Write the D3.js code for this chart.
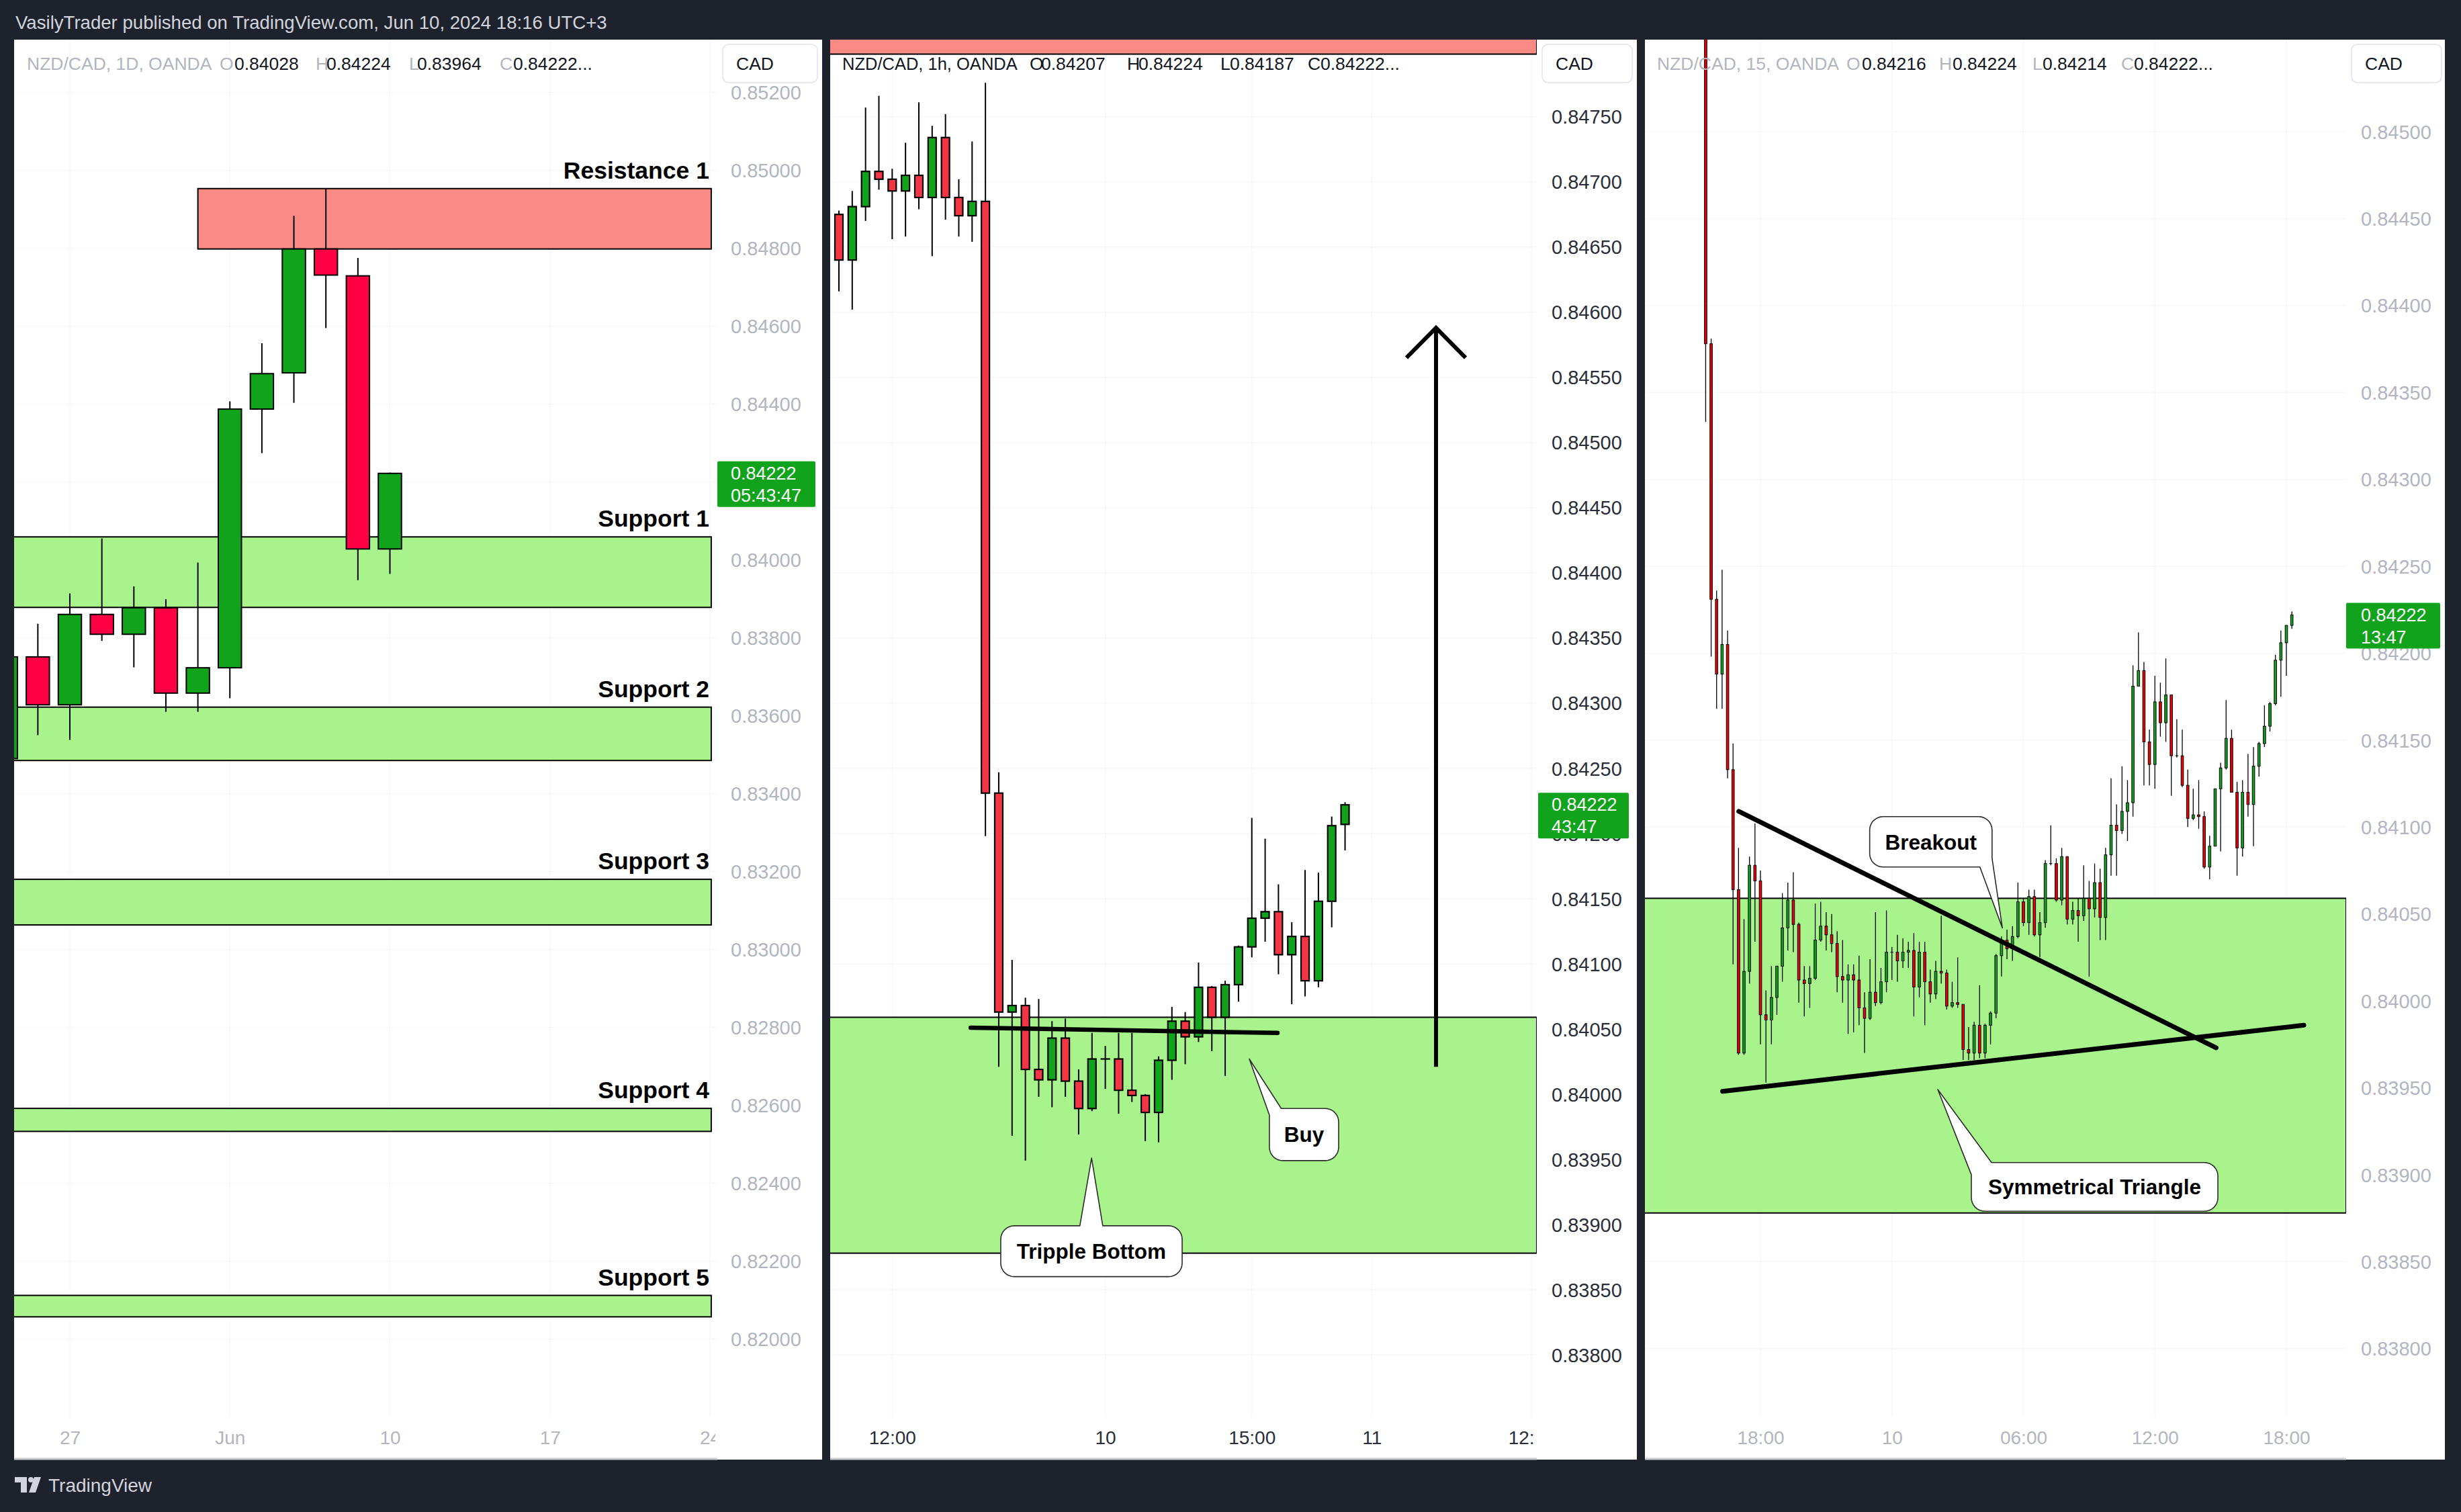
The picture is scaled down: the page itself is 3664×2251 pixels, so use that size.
<!DOCTYPE html>
<html>
<head>
<meta charset="utf-8">
<script src="https://cdn.jsdelivr.net/npm/d3@7/dist/d3.min.js"></script>
<style>
html,body{margin:0;padding:0;background:#1e222d;}
svg{display:block;font-family:"Liberation Sans",Arial,sans-serif;}
</style>
</head>
<body>
<svg id="chart" width="3664" height="2251"></svg>
<script>
// ================= DATA =================
const headerText = "VasilyTrader published on TradingView.com, Jun 10, 2024 18:16 UTC+3";

// ---- Panel 1 : NZD/CAD 1D ----
const dailyIndex = [0,1,2,3,4,5,6,7,8,9,10,11,12];
const dailyDates = ["May 23","May 24","May 27","May 28","May 29","May 30","May 31","Jun 3","Jun 4","Jun 5","Jun 6","Jun 7","Jun 10"];
const dailyOpen  = [0.83490,0.83751,0.83628,0.83860,0.83809,0.83877,0.83658,0.83723,0.84387,0.84480,0.84798,0.84729,0.84028];
const dailyHigh  = [0.83760,0.83836,0.83914,0.84055,0.83932,0.83899,0.83993,0.84407,0.84556,0.84883,0.84953,0.84775,0.84224];
const dailyLow   = [0.83470,0.83550,0.83538,0.83792,0.83724,0.83610,0.83610,0.83645,0.84274,0.84403,0.84595,0.83948,0.83964];
const dailyClose = [0.83751,0.83628,0.83860,0.83809,0.83877,0.83658,0.83723,0.84387,0.84478,0.84798,0.84731,0.84028,0.84222];
const dailyTimeTicks  = [2,7,12,17,22];
const dailyTimeLabels = ["27","Jun","10","17","24"];
const dailyPriceTicks = [0.852,0.850,0.848,0.846,0.844,0.842,0.840,0.838,0.836,0.834,0.832,0.830,0.828,0.826,0.824,0.822,0.820];
const dailyLegend = ["NZD/CAD, 1D, OANDA","0.84028","0.84224","0.83964","0.84222..."];

// ---- zones (shared by all panels) ----
const zoneNames  = ["Resistance 1","Support 1","Support 2","Support 3","Support 4","Support 5"];
const zoneKinds  = ["res","sup","sup","sup","sup","sup"];
const zoneTop    = [0.84953,0.84059,0.83622,0.83180,0.82592,0.82112];
const zoneBottom = [0.84798,0.83878,0.83485,0.83063,0.82533,0.82057];
const zoneStartDay = [6,-3,-3,-3,-3,-3];
const zoneEndDay   = [22.04,22.04,22.04,22.04,22.04,22.04];

// ---- Panel 2 : NZD/CAD 1h ----
const hourlyOpen  = [0.84675,0.84640,0.84681,0.84708,0.84702,0.84693,0.84705,0.84688,0.84734,0.84688,0.84674,0.84685,0.84231,0.84063,0.84068,0.84019,0.84011,0.84043,0.84010,0.83989,0.84027,0.84027,0.84003,0.83999,0.83986,0.84026,0.84056,0.84044,0.84082,0.84059,0.84084,0.84113,0.84135,0.84140,0.84107,0.84121,0.84087,0.84148,0.84207];
const hourlyHigh  = [0.84678,0.84693,0.84757,0.84766,0.84710,0.84730,0.84761,0.84743,0.84752,0.84702,0.84731,0.84776,0.84247,0.84103,0.84074,0.84073,0.84056,0.84058,0.84019,0.84047,0.84037,0.84047,0.84047,0.84000,0.84029,0.84067,0.84063,0.84101,0.84083,0.84087,0.84114,0.84212,0.84196,0.84161,0.84132,0.84172,0.84170,0.84213,0.84224];
const hourlyLow   = [0.84616,0.84602,0.84670,0.84694,0.84656,0.84658,0.84679,0.84643,0.84671,0.84658,0.84654,0.84198,0.84021,0.83968,0.83949,0.83998,0.83990,0.83998,0.83969,0.83987,0.84004,0.83985,0.83994,0.83964,0.83963,0.84011,0.84023,0.84040,0.84033,0.84014,0.84071,0.84105,0.84117,0.84092,0.84069,0.84075,0.84082,0.84128,0.84187];
const hourlyClose = [0.84640,0.84681,0.84708,0.84702,0.84693,0.84705,0.84688,0.84734,0.84688,0.84674,0.84685,0.84231,0.84063,0.84068,0.84019,0.84011,0.84043,0.84010,0.83989,0.84027,0.84027,0.84003,0.83999,0.83986,0.84026,0.84056,0.84044,0.84082,0.84059,0.84084,0.84113,0.84135,0.84140,0.84107,0.84121,0.84087,0.84148,0.84206,0.84222];
const hourlyTimeTicks  = [4,20,31,40,52];
const hourlyTimeLabels = ["12:00","10","15:00","11","12:00"];
const hourlyPriceTicks = [0.8475,0.847,0.8465,0.846,0.8455,0.845,0.8445,0.844,0.8435,0.843,0.8425,0.842,0.8415,0.841,0.8405,0.840,0.8395,0.839,0.8385,0.838];
const hourlyLegend = ["NZD/CAD, 1h, OANDA","0.84207","0.84224","0.84187","0.84222..."];
const necklineIdx = [9.89,32.93];
const necklinePrice = [0.84051,0.84047];
const arrowIdx = [44.83,44.83];
const arrowPrice = [0.84021,0.84588];
const arrowHeadIdx = [42.61,44.83,47.05];
const arrowHeadPrice = [0.84565,0.84588,0.84565];

// ---- Panel 3 : NZD/CAD 15m ----
const m15Start = -10;
const m15Open  = [0.84590,0.84378,0.84231,0.84188,0.84205,0.84133,0.84064,0.83970,0.84017,0.84078,0.84069,0.83992,0.83989,0.84002,0.84020,0.84042,0.84058,0.84044,0.84012,0.84010,0.84013,0.84035,0.84043,0.84038,0.84033,0.84014,0.84012,0.84015,0.84012,0.83996,0.83990,0.84005,0.83999,0.84011,0.84028,0.84028,0.84023,0.84028,0.84029,0.84008,0.84028,0.84011,0.84004,0.84017,0.84016,0.83997,0.83999,0.83998,0.83972,0.83970,0.83986,0.83970,0.83986,0.83993,0.84026,0.84035,0.84030,0.84037,0.84057,0.84045,0.84060,0.84038,0.84045,0.84079,0.84079,0.84058,0.84083,0.84047,0.84052,0.84049,0.84059,0.84053,0.84068,0.84048,0.84084,0.84101,0.84098,0.84109,0.84114,0.84181,0.84190,0.84149,0.84136,0.84172,0.84160,0.84176,0.84141,0.84141,0.84124,0.84105,0.84107,0.84106,0.84077,0.84089,0.84122,0.84134,0.84151,0.84120,0.84088,0.84120,0.84113,0.84135,0.84148,0.84158,0.84171,0.84196,0.84206,0.84216];
const m15High  = [0.84600,0.84381,0.84236,0.84248,0.84213,0.84148,0.84088,0.84047,0.84083,0.84102,0.84075,0.84006,0.84020,0.84020,0.84062,0.84068,0.84074,0.84045,0.84020,0.84020,0.84056,0.84057,0.84051,0.84050,0.84040,0.84035,0.84021,0.84021,0.84026,0.84005,0.84024,0.84051,0.84019,0.84052,0.84031,0.84038,0.84036,0.84034,0.84039,0.84034,0.84034,0.84018,0.84023,0.84049,0.84018,0.84011,0.84025,0.83998,0.83985,0.83988,0.84009,0.83987,0.83994,0.84027,0.84037,0.84041,0.84043,0.84068,0.84059,0.84064,0.84064,0.84051,0.84081,0.84101,0.84082,0.84088,0.84083,0.84057,0.84059,0.84078,0.84069,0.84079,0.84076,0.84088,0.84128,0.84113,0.84135,0.84127,0.84193,0.84212,0.84195,0.84156,0.84187,0.84183,0.84197,0.84176,0.84162,0.84156,0.84133,0.84122,0.84127,0.84109,0.84095,0.84122,0.84137,0.84173,0.84156,0.84126,0.84127,0.84142,0.84146,0.84149,0.84170,0.84172,0.84199,0.84213,0.84216,0.84224];
const m15Low   = [0.84333,0.84198,0.84168,0.84168,0.84128,0.84021,0.83969,0.83969,0.84010,0.84034,0.83975,0.83953,0.83975,0.83992,0.84011,0.84029,0.84028,0.83999,0.83991,0.83996,0.84012,0.84034,0.84029,0.84028,0.84005,0.83999,0.83981,0.83982,0.83986,0.83970,0.83989,0.83997,0.83998,0.84005,0.84012,0.84011,0.84019,0.84019,0.83991,0.84002,0.83986,0.83999,0.84001,0.84010,0.83995,0.83996,0.83996,0.83966,0.83966,0.83966,0.83967,0.83967,0.83975,0.83990,0.84014,0.84024,0.84023,0.84036,0.84043,0.84038,0.84037,0.84025,0.84042,0.84078,0.84057,0.84055,0.84044,0.84044,0.84034,0.84046,0.84014,0.84048,0.84035,0.84035,0.84072,0.84072,0.84096,0.84092,0.84106,0.84181,0.84124,0.84124,0.84122,0.84152,0.84149,0.84118,0.84140,0.84123,0.84100,0.84104,0.84099,0.84076,0.84070,0.84089,0.84086,0.84133,0.84120,0.84072,0.84083,0.84106,0.84089,0.84129,0.84146,0.84155,0.84170,0.84175,0.84187,0.84214];
const m15Close = [0.84378,0.84231,0.84188,0.84205,0.84133,0.84064,0.83970,0.84017,0.84078,0.84069,0.83992,0.83989,0.84002,0.84020,0.84042,0.84058,0.84044,0.84012,0.84010,0.84013,0.84035,0.84043,0.84038,0.84033,0.84014,0.84012,0.84015,0.84012,0.83996,0.83990,0.84005,0.83999,0.84011,0.84028,0.84028,0.84023,0.84028,0.84029,0.84008,0.84028,0.84011,0.84004,0.84017,0.84016,0.83997,0.83999,0.83998,0.83972,0.83970,0.83986,0.83970,0.83986,0.83993,0.84026,0.84035,0.84030,0.84037,0.84057,0.84045,0.84060,0.84038,0.84045,0.84079,0.84079,0.84058,0.84083,0.84047,0.84052,0.84049,0.84059,0.84053,0.84068,0.84048,0.84084,0.84101,0.84098,0.84109,0.84114,0.84181,0.84190,0.84149,0.84136,0.84172,0.84160,0.84176,0.84141,0.84141,0.84124,0.84105,0.84107,0.84106,0.84077,0.84089,0.84122,0.84134,0.84151,0.84120,0.84088,0.84120,0.84113,0.84135,0.84148,0.84158,0.84171,0.84196,0.84206,0.84216,0.84222];
const m15TimeTicks  = [0,24,48,72,96];
const m15TimeLabels = ["18:00","10","06:00","12:00","18:00"];
const m15PriceTicks = [0.845,0.8445,0.844,0.8435,0.843,0.8425,0.842,0.8415,0.841,0.8405,0.840,0.8395,0.839,0.8385,0.838];
const m15Legend = ["NZD/CAD, 15, OANDA","0.84216","0.84224","0.84214","0.84222..."];
const descLineIdx = [-3.96,83.17];
const descLinePrice = [0.84109,0.83973];
const ascLineIdx = [-6.92,99.19];
const ascLinePrice = [0.83948,0.83986];

const lastPrice = 0.84222;
const countdowns = ["05:43:47","43:47","13:47"];

// ================= DRAW =================
const svg = d3.select("#chart");
const TOP = 59, BOTTOM = 2173, PLOT_BOTTOM = 2110;
const fmt = d3.format(".5f");

svg.append("rect").attr("width",3664).attr("height",2251).attr("fill","#1e222d");
svg.append("text").attr("x",23).attr("y",43).attr("fill","#d1d4dc")
  .attr("font-size",27.6).text(headerText);

let clipN = 0;
function makeClip(x,y,w,h){
  const id = "clip"+(clipN++);
  svg.append("clipPath").attr("id",id).append("rect").attr("x",x).attr("y",y).attr("width",w).attr("height",h);
  return "url(#"+id+")";
}

function drawCandles(g, xs, ys, idx, O, Hh, L, C, st){
  const data = idx.map((d,i)=>({i:d,o:O[i],h:Hh[i],l:L[i],c:C[i]}));
  g.selectAll("line.wick").data(data).join("line").attr("class","wick")
    .attr("x1",d=>xs(d.i)).attr("x2",d=>xs(d.i))
    .attr("y1",d=>ys(d.h)).attr("y2",d=>ys(d.l))
    .attr("stroke","#000").attr("stroke-width",st.wick);
  g.selectAll("rect.body").data(data).join("rect").attr("class","body")
    .attr("x",d=>xs(d.i)-st.w/2).attr("width",st.w)
    .attr("y",d=>ys(Math.max(d.o,d.c)))
    .attr("height",d=>Math.max(0.01,Math.abs(ys(d.o)-ys(d.c))))
    .attr("fill",d=>d.c>=d.o?st.up:st.down)
    .attr("stroke","#000").attr("stroke-width",st.border);
}

function drawZones(g, xs, ys, plotLeft, plotRight){
  zoneNames.forEach((n,i)=>{
    const x0 = Math.max(xs(zoneStartDay[i]), plotLeft-10);
    const x1 = Math.min(xs(zoneEndDay[i]), plotRight);
    g.append("rect").attr("x",x0).attr("y",ys(zoneTop[i]))
      .attr("width",x1-x0).attr("height",ys(zoneBottom[i])-ys(zoneTop[i]))
      .attr("fill",zoneKinds[i]==="res"?"#f98a85":"#a8f38b")
      .attr("stroke","#000").attr("stroke-width",2);
  });
}

function drawLegend(g, pos, parts, labelColor, valueColor, nameSize){
  const letters = ["O","H","L","C"];
  const t = g.append("text").attr("y",104).attr("font-size",26.5);
  t.append("tspan").attr("x",pos[0]).attr("fill",labelColor).attr("font-size",nameSize).text(parts[0]);
  for(let k=0;k<4;k++){
    t.append("tspan").attr("x",pos[1+2*k]).attr("fill",labelColor).text(letters[k]);
    t.append("tspan").attr("x",pos[2+2*k]).attr("fill",valueColor).text(parts[1+k]);
  }
}

function drawPanel(cfg){
  const g = svg.append("g");
  g.append("rect").attr("x",cfg.left).attr("y",TOP).attr("width",cfg.right-cfg.left)
    .attr("height",BOTTOM-TOP).attr("fill","#ffffff");
  const plotClip = makeClip(cfg.left, TOP, cfg.plotRight-cfg.left, PLOT_BOTTOM-TOP);
  const plot = g.append("g").attr("clip-path",plotClip);
  plot.selectAll("line.hg").data(cfg.priceTicks).join("line").attr("class","hg")
    .attr("x1",cfg.left).attr("x2",cfg.plotRight).attr("y1",d=>cfg.y(d)).attr("y2",d=>cfg.y(d))
    .attr("stroke","#f6f7f9").attr("stroke-width",1.5);
  plot.selectAll("line.vg").data(cfg.timeTicks).join("line").attr("class","vg")
    .attr("y1",TOP).attr("y2",PLOT_BOTTOM).attr("x1",d=>cfg.x(d)).attr("x2",d=>cfg.x(d))
    .attr("stroke","#f6f7f9").attr("stroke-width",1.5);
  drawZones(plot, cfg.zx, cfg.zy, cfg.left, cfg.plotRight);
  cfg.extra && cfg.extra(plot, g);
  drawLegend(g, cfg.legendPos, cfg.legend, cfg.legendLabelColor, "#131722", cfg.nameSize);
  // price axis: labels hidden completely behind the last-price tag are not drawn
  const ly = cfg.y(lastPrice);
  const shownTicks = cfg.priceTicks.filter(t => !(cfg.hideUnderTag && Math.abs(cfg.y(t)-(ly+16)) < 20));
  const axOuter = g.append("g").attr("clip-path", makeClip(cfg.axisX-5, 127, 200, PLOT_BOTTOM-127));
  const axG = axOuter.append("g").attr("transform","translate("+cfg.axisX+",0)")
    .call(d3.axisRight(cfg.y).tickValues(shownTicks).tickFormat(fmt).tickSize(0).tickPadding(0));
  axG.select(".domain").remove();
  axG.selectAll("text").attr("font-size",29).attr("font-family","Liberation Sans, Arial, sans-serif")
    .attr("fill",cfg.axisColor).attr("dy","0.35em");
  // last price tag
  g.append("rect").attr("x",cfg.tagX0).attr("y",ly-18).attr("width",cfg.tagX1-cfg.tagX0).attr("height",68)
    .attr("fill","#11a31c").attr("rx",2);
  g.append("text").attr("x",cfg.axisX).attr("y",ly+9).attr("fill","#fff").attr("font-size",27).text(fmt(lastPrice));
  g.append("text").attr("x",cfg.axisX).attr("y",ly+42).attr("fill","#fff").attr("font-size",27).text(cfg.countdown);
  // CAD box
  g.append("rect").attr("x",cfg.cadX0).attr("y",66).attr("width",cfg.cadX1-cfg.cadX0).attr("height",57)
    .attr("rx",9).attr("fill","#fff").attr("stroke","#e0e3eb").attr("stroke-width",1.5);
  g.append("text").attr("x",cfg.cadX0+20).attr("y",104).attr("font-size",26.5).attr("fill","#131722").text("CAD");
  // time axis
  const tOuter = g.append("g").attr("clip-path", makeClip(cfg.left, 2080, cfg.plotRight-cfg.left-3, 90));
  const tG = tOuter.append("g").attr("transform","translate(0,2130)")
    .call(d3.axisBottom(cfg.x).tickValues(cfg.timeTicks).tickFormat((d,i)=>cfg.timeLabels[i]).tickSize(0).tickPadding(0));
  tG.select(".domain").remove();
  tG.selectAll("text").attr("font-size",28).attr("font-family","Liberation Sans, Arial, sans-serif")
    .attr("fill",cfg.axisColor).attr("dy","0.71em");
  g.append("line").attr("x1",cfg.left).attr("x2",cfg.plotRight).attr("y1",2172).attr("y2",2172)
    .attr("stroke","#c8cad0").attr("stroke-width",3);
  return g;
}

function callout(g, pts, label, cx, cy){
  g.append("path").attr("d", d3.line()(pts) + "Z")
    .attr("fill","#fff").attr("stroke","#2b2b2b").attr("stroke-width",1.6).attr("stroke-linejoin","round");
  g.append("text").attr("x",cx).attr("y",cy).attr("dy","0.36em").attr("text-anchor","middle")
    .attr("font-size",31.5).attr("font-weight","bold").attr("fill","#000").text(label);
}
function roundRectPts(l,t,r,b,rr,insert){
  const arc = (cx,cy,a0,a1)=>d3.range(0,9).map(k=>{const a=a0+(a1-a0)*k/8;return [cx+rr*Math.cos(a),cy+rr*Math.sin(a)];});
  const P = Math.PI;
  const seg = {
    top: [[l+rr,t],[r-rr,t]],
    tr: arc(r-rr,t+rr,-P/2,0),
    right: [[r,t+rr],[r,b-rr]],
    br: arc(r-rr,b-rr,0,P/2),
    bottom: [[r-rr,b],[l+rr,b]],
    bl: arc(l+rr,b-rr,P/2,P),
    left: [[l,b-rr],[l,t+rr]],
    tl: arc(l+rr,t+rr,P,1.5*P)
  };
  return insert(seg);
}

// ---------- Panel 1 ----------
const x1 = d3.scaleLinear().domain([2,22]).range([104,1057]);
const y1 = d3.scaleLinear().domain([0.85,0.82]).range([253.5,1993.5]);
drawPanel({
  left:21, right:1224, plotRight:1068, axisX:1088, x:x1, y:y1, zx:x1, zy:y1, hideUnderTag:true,
  priceTicks:dailyPriceTicks, timeTicks:dailyTimeTicks, timeLabels:dailyTimeLabels,
  legend:dailyLegend, legendPos:[40,327,349,470,486,609,621,744,764], legendLabelColor:"#b2b5be", nameSize:26.5,
  axisColor:"#b2b5be", tagX0:1068, tagX1:1214, cadX0:1076, cadX1:1217, countdown:countdowns[0],
  extra:(plot,g)=>{
    drawCandles(plot,x1,y1,dailyIndex,dailyOpen,dailyHigh,dailyLow,dailyClose,
      {w:34.5,border:2,wick:2,up:"#11a31c",down:"#ff0044"});
    zoneNames.forEach((n,i)=>{
      plot.append("text").attr("x",x1(zoneEndDay[i])-3).attr("y",y1(zoneTop[i])-15)
        .attr("text-anchor","end").attr("font-size",35.5).attr("font-weight","bold").attr("fill","#000").text(n);
    });
  }
});

// ---------- Panel 2 ----------
const x2 = d3.scaleLinear().domain([0,40]).range([1249,2042.2]);
const y2 = d3.scaleLinear().domain([0.8475,0.838]).range([173.7,2017]);
const hourlyIndex = hourlyOpen.map((d,i)=>i);
const zx2 = d => d<10 ? -100 : 200;
drawPanel({
  left:1236, right:2437, plotRight:2288, axisX:2310, x:x2, y:y2,
  zx: d=>x2(zx2(d)), zy:y2, hideUnderTag:false,
  priceTicks:hourlyPriceTicks, timeTicks:hourlyTimeTicks, timeLabels:hourlyTimeLabels,
  legend:hourlyLegend, legendPos:[1254,1533,1550,1678,1695,1817,1831,1947,1966], legendLabelColor:"#131722", nameSize:25.5,
  axisColor:"#2a2e39", tagX0:2290, tagX1:2425, cadX0:2296, cadX1:2430, countdown:countdowns[1],
  extra:(plot,g)=>{
    drawCandles(plot,x2,y2,hourlyIndex,hourlyOpen,hourlyHigh,hourlyLow,hourlyClose,
      {w:12,border:2.2,wick:2,up:"#11a31c",down:"#f23645"});
    plot.append("path").attr("d",d3.line()(necklineIdx.map((d,i)=>[x2(d),y2(necklinePrice[i])])))
      .attr("stroke","#000").attr("stroke-width",6.5).attr("stroke-linecap","round").attr("fill","none");
    plot.append("path").attr("d",d3.line()(arrowIdx.map((d,i)=>[x2(d),y2(arrowPrice[i])])))
      .attr("stroke","#000").attr("stroke-width",6).attr("fill","none");
    plot.append("path").attr("d",d3.line()(arrowHeadIdx.map((d,i)=>[x2(d),y2(arrowHeadPrice[i])])))
      .attr("stroke","#000").attr("stroke-width",6).attr("fill","none").attr("stroke-linejoin","miter");
    {
      const l=x2(32.32), r=x2(37.52), t=y2(0.83989), b=y2(0.83949);
      const pts = roundRectPts(l,t,r,b,20,s=>[[x2(33.21),t],s.top[1],...s.tr,...s.right,...s.br,...s.bottom,...s.bl,[l,b-20],[l,y2(0.83984)],[x2(30.81),y2(0.84027)]]);
      callout(plot,pts,"Buy",(l+r)/2,(t+b)/2);
    }
    {
      const l=x2(12.15), r=x2(25.77), t=y2(0.83899), b=y2(0.83860);
      const pts = roundRectPts(l,t,r,b,20,s=>[s.top[0],[x2(18.09),t],[x2(18.97),y2(0.83951)],[x2(19.81),t],s.top[1],...s.tr,...s.right,...s.br,...s.bottom,...s.bl,...s.left,...s.tl]);
      callout(plot,pts,"Tripple Bottom",(l+r)/2,(t+b)/2);
    }
  }
});

// ---------- Panel 3 ----------
const x3 = d3.scaleLinear().domain([0,96]).range([2621,3404]);
const y3 = d3.scaleLinear().domain([0.845,0.838]).range([196,2007.7]);
const m15Index = m15Open.map((d,i)=>m15Start+i);
drawPanel({
  left:2449, right:3640, plotRight:3493, axisX:3515, x:x3, y:y3,
  zx: d=>x3(d<10 ? -400 : 400), zy:y3, hideUnderTag:false,
  priceTicks:m15PriceTicks, timeTicks:m15TimeTicks, timeLabels:m15TimeLabels,
  legend:m15Legend, legendPos:[2467,2749,2772,2887,2907,3026,3041,3158,3177], legendLabelColor:"#b2b5be", nameSize:26.5,
  axisColor:"#b2b5be", tagX0:3493, tagX1:3633, cadX0:3501, cadX1:3635, countdown:countdowns[2],
  extra:(plot,g)=>{
    drawCandles(plot,x3,y3,m15Index,m15Open,m15High,m15Low,m15Close,
      {w:3.6,border:1,wick:1.3,up:"#11a31c",down:"#f00000"});
    plot.append("path").attr("d",d3.line()(descLineIdx.map((d,i)=>[x3(d),y3(descLinePrice[i])])))
      .attr("stroke","#000").attr("stroke-width",7).attr("stroke-linecap","round").attr("fill","none");
    plot.append("path").attr("d",d3.line()(ascLineIdx.map((d,i)=>[x3(d),y3(ascLinePrice[i])])))
      .attr("stroke","#000").attr("stroke-width",7).attr("stroke-linecap","round").attr("fill","none");
    {
      const l=x3(19.94), r=x3(42.28), t=y3(0.84106), b=y3(0.84077);
      const pts = roundRectPts(l,t,r,b,20,s=>[...s.top,...s.tr,[r,t+20],[r,y3(0.84082)],[x3(44.16),y3(0.84042)],[x3(40.06),b],[l+20,b],...s.bl,...s.left,...s.tl]);
      callout(plot,pts,"Breakout",(l+r)/2,(t+b)/2);
    }
    {
      const l=x3(38.5), r=x3(83.5), t=y3(0.83907), b=y3(0.83879);
      const pts = roundRectPts(l,t,r,b,20,s=>[[x3(42.18),t],s.top[1],...s.tr,...s.right,...s.br,...s.bottom,...s.bl,[l,b-20],[l,y3(0.83900)],[x3(32.37),y3(0.83949)]]);
      callout(plot,pts,"Symmetrical Triangle",(l+r)/2,(t+b)/2);
    }
  }
});

// ---------- footer logo ----------
const logo = svg.append("g").attr("fill","#d1d4dc");
logo.append("path").attr("d","M22 2199 H40 V2222 H31 V2207 H22 Z");
logo.append("circle").attr("cx",46).attr("cy",2203).attr("r",4);
logo.append("path").attr("d","M51 2199 H61 L53 2222 H43 Z");
svg.append("text").attr("x",72).attr("y",2221).attr("fill","#d1d4dc").attr("font-size",28).text("TradingView");
</script>
</body>
</html>
